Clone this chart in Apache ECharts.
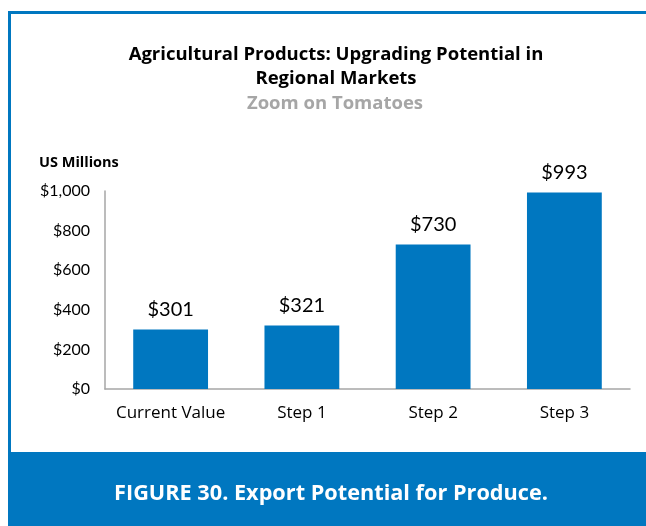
<!DOCTYPE html>
<html>
<head>
<meta charset="utf-8">
<script src="https://cdn.jsdelivr.net/npm/echarts@6/dist/echarts.min.js"></script>
<style>html,body{margin:0;padding:0;background:#fff;}#c{width:646px;height:526px;}</style>
</head>
<body>
<div id="c"></div>
<script>
const categories = ['Current Value', 'Step 1', 'Step 2', 'Step 3'];
const values = [301, 321, 730, 993];
const yTicks = [0, 200, 400, 600, 800, 1000];

const FONT = 'Lato';
const TFONT = 'Open Sans';
const BLUE = '#0077C0';
const chart = echarts.init(document.getElementById('c'));
chart.setOption({
  animation: false,
  textStyle: { fontFamily: FONT },
  title: [
    { text: 'Agricultural Products: Upgrading Potential in', left: 331, top: 40, textAlign: 'center',
      textStyle: { fontFamily: TFONT, fontSize: 18.5, fontWeight: 'bold', color: '#000' } },
    { text: 'Regional Markets', left: 331, top: 64, textAlign: 'center',
      textStyle: { fontFamily: TFONT, fontSize: 18.5, fontWeight: 'bold', color: '#000' } },
    { text: 'Zoom on Tomatoes', left: 330, top: 89, textAlign: 'center',
      textStyle: { fontFamily: TFONT, fontSize: 18.5, fontWeight: 'bold', color: '#A6A6A6' } },
    { text: 'US Millions', left: 34, top: 150,
      textStyle: { fontFamily: TFONT, fontSize: 14.5, fontWeight: 'bold', color: '#000' } }
  ],
  graphic: [
    { type: 'rect', shape: { x: 8, y: 11, width: 638, height: 3 }, style: { fill: BLUE } },
    { type: 'rect', shape: { x: 8, y: 11, width: 3, height: 445 }, style: { fill: BLUE } },
    { type: 'rect', shape: { x: 8, y: 452, width: 638, height: 74 }, style: { fill: BLUE } },
    { type: 'text', x: 331, y: 494, style: { text: 'FIGURE 30. Export Potential for Produce.', fill: '#fff',
      font: 'bold 21.7px "Open Sans"', textAlign: 'center', textVerticalAlign: 'middle' } }
  ],
  grid: { left: 105, right: 16, top: 191, bottom: 137 },
  xAxis: {
    type: 'category', data: categories,
    axisLine: { lineStyle: { color: '#A6A6A6', width: 1.5 } },
    axisTick: { show: false },
    axisLabel: { interval: 0, fontFamily: TFONT, fontSize: 17, color: '#000', margin: 16 }
  },
  yAxis: {
    type: 'value', min: yTicks[0], max: yTicks[yTicks.length - 1], interval: 200,
    axisLine: { show: true, lineStyle: { color: '#A6A6A6', width: 1.5 } },
    axisTick: { show: false },
    splitLine: { show: false },
    axisLabel: { fontFamily: FONT, fontSize: 16, color: '#000', margin: 15,
      formatter: v => '$' + v.toLocaleString('en-US') }
  },
  series: [{
    type: 'bar', data: values, barWidth: '57%',
    itemStyle: { color: BLUE },
    label: { show: true, position: 'top', distance: 10, fontFamily: FONT, fontSize: 20, color: '#000',
      formatter: p => '$' + p.value }
  }]
});
</script>
</body>
</html>
